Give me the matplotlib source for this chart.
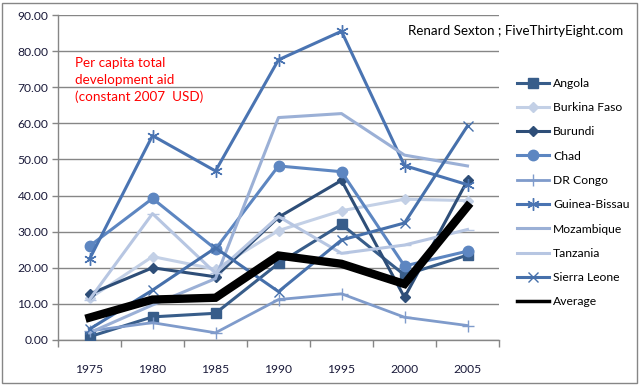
import matplotlib
matplotlib.use("Agg")
import matplotlib.pyplot as plt
from matplotlib.patches import Rectangle
from matplotlib.ticker import FixedLocator, FormatStrFormatter

plt.rcParams['font.family'] = ['Lato', 'DejaVu Sans']

years = ["1975", "1980", "1985", "1990", "1995", "2000", "2005"]

angola = [0.9, 6.4, 7.4, 21.2, 32.0, 18.0, 23.5]
burkina_faso = [11.5, 23.1, 19.6, 30.3, 35.8, 39.0, 38.6]
burundi = [12.7, 20.0, 17.5, 34.0, 44.2, 11.8, 44.2]
chad = [26.0, 39.2, 25.2, 48.2, 46.6, 20.5, 24.6]
dr_congo = [2.5, 4.8, 2.0, 11.2, 12.8, 6.3, 4.0]
guinea_bissau = [22.4, 56.6, 46.8, 77.6, 85.5, 48.3, 43.0]
mozambique = [2.0, 9.7, 17.0, 61.6, 62.7, 51.2, 48.2]
tanzania = [11.2, 35.0, 18.5, 34.2, 24.0, 26.3, 30.6]
sierra_leone = [3.0, 13.8, 25.5, 13.4, 27.7, 32.4, 59.3]
average = [6.2, 11.2, 11.7, 23.4, 21.1, 15.5, 37.0]

series = [
    ("Angola", angola, "#385D8A", "s", 7, 2.2),
    ("Burkina Faso", burkina_faso, "#C3D0E6", "D", 5, 2.2),
    ("Burundi", burundi, "#2E4E78", "D", 5, 2.2),
    ("Chad", chad, "#5D86C1", "o", 7.5, 2.2),
    ("DR Congo", dr_congo, "#7F9BCB", "+", 8, 2.0),
    ("Guinea-Bissau", guinea_bissau, "#4A74B2", (6, 2, 0), 9, 2.2),
    ("Mozambique", mozambique, "#9BB0D6", None, 0, 2.2),
    ("Tanzania", tanzania, "#B7C6E2", "_", 8, 2.2),
    ("Sierra Leone", sierra_leone, "#4670AB", "x", 7, 2.2),
]

fig = plt.figure(figsize=(6.4, 3.85), dpi=100)
ax = fig.add_axes([58/640, 1-340/385, 441/640, 325/385])

x = list(range(len(years)))
for name, vals, col, mk, ms, lw in series:
    ax.plot(x, vals, color=col, lw=lw, marker=mk, markersize=ms,
            markerfacecolor=col, markeredgecolor=col, markeredgewidth=1.0,
            label=name, zorder=3)
ax.plot(x, average, color="black", lw=6, label="Average", zorder=4,
        solid_joinstyle="miter")

ax.set_xlim(-0.5, len(years) - 0.5)
ax.set_ylim(0, 90)
ax.set_yticks(range(0, 91, 10))
ax.yaxis.set_major_formatter(FormatStrFormatter("%.2f"))
ax.set_xticks(x)
ax.set_xticklabels(years)
ax.xaxis.set_minor_locator(FixedLocator([i - 0.5 for i in range(len(years) + 1)]))
ax.tick_params(axis="x", which="major", length=0, pad=17, labelsize=8.7, colors="black")
ax.tick_params(axis="x", which="minor", length=5, width=1, color="#868686", direction="out")
ax.tick_params(axis="y", which="major", length=4, width=1, color="#868686",
               labelsize=8.7, pad=3)
for lab in ax.get_yticklabels() + ax.get_xticklabels():
    lab.set_color("#1a1a3a")

ax.grid(axis="y", color="#868686", lw=1)
ax.set_axisbelow(True)
for s in ["top", "right"]:
    ax.spines[s].set_visible(False)
for s in ["left", "bottom"]:
    ax.spines[s].set_color("#868686")
    ax.spines[s].set_linewidth(1)

leg = fig.legend(loc="upper left", bbox_to_anchor=(512/640, 1-73/385),
                 frameon=False, fontsize=8.7, handlelength=2.7,
                 handletextpad=0.3, labelspacing=1.1, borderaxespad=0)
leg.get_lines()[-1].set_linewidth(2.5)

fig.text(408/640, 1-31/385, "Renard Sexton ; FiveThirtyEight.com",
         fontsize=9.6, va="center", ha="left", color="black")
fig.text(75/640, 1-57/385, "Per capita total\ndevelopment aid\n(constant 2007  USD)",
         fontsize=9.7, va="top", ha="left", color="red", linespacing=1.45)

fig.patches.append(Rectangle((2/640, 2/385), 635/640, 380/385, transform=fig.transFigure,
                             fill=False, edgecolor="#868686", lw=1))

fig.savefig("out.png", dpi=100)
